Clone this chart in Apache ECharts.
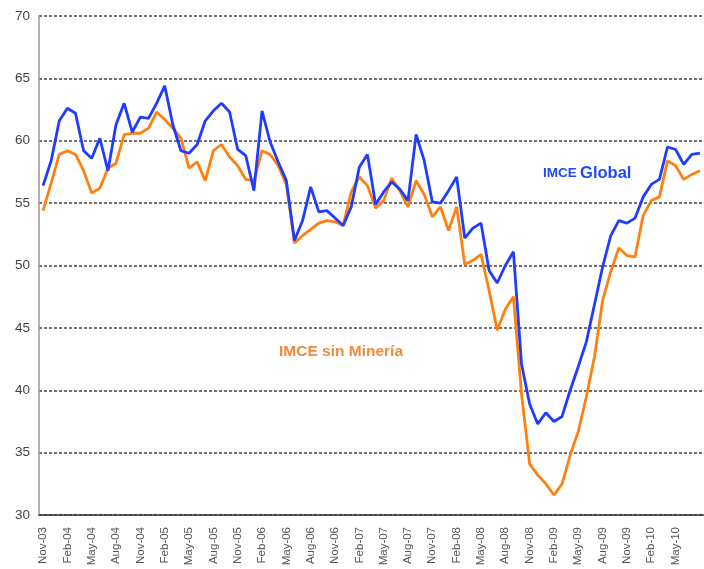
<!DOCTYPE html>
<html lang="es">
<head>
    <meta charset="UTF-8">
    <title>IMCE Global vs IMCE sin Minería</title>
    <script src="https://cdn.jsdelivr.net/npm/echarts@6/dist/echarts.min.js"></script>
    <style>
        html, body { margin: 0; padding: 0; background: #fff; }
        #chart { width: 704px; height: 569px; }
    </style>
</head>
<body>
    <div id="chart"></div>

    <script>
        // months from Nov-03 onwards (last one is cut off at the right edge)
        const monthNames = ['Jan', 'Feb', 'Mar', 'Apr', 'May', 'Jun', 'Jul', 'Aug', 'Sep', 'Oct', 'Nov', 'Dec'];
        const months = [];
        for (let k = 0; k < 82; k++) {
            const m = (10 + k) % 12;
            const y = 3 + Math.floor((10 + k) / 12);
            months.push(monthNames[m] + '-' + String(y).padStart(2, '0'));
        }

        // IMCE Global
        const imceGlobal = [
            56.4, 58.4, 61.6, 62.6, 62.2, 59.2, 58.6, 60.2, 57.6, 61.3,
            63.0, 60.7, 61.9, 61.8, 63.0, 64.4, 61.3, 59.2, 59.0, 59.7,
            61.6, 62.4, 63.0, 62.3, 59.3, 58.8, 56.0, 62.4, 59.9, 58.3,
            56.8, 52.0, 53.6, 56.3, 54.3, 54.4, 53.8, 53.2, 54.7, 57.9,
            58.9, 54.9, 55.9, 56.7, 56.1, 55.2, 60.5, 58.4, 55.1, 55.0,
            56.0, 57.1, 52.2, 53.0, 53.4, 49.6, 48.6, 50.0, 51.1, 42.1,
            38.9, 37.3, 38.2, 37.5, 37.9, 40.0, 41.9, 43.9, 46.9, 49.9,
            52.4, 53.6, 53.4, 53.8, 55.5, 56.5, 56.9, 59.5, 59.3, 58.1,
            58.9, 59.0
        ];

        // IMCE sin Mineria
        const imceSinMineria = [
            54.4, 56.6, 58.9, 59.2, 58.9, 57.6, 55.8, 56.2, 57.8, 58.2,
            60.5, 60.6, 60.6, 61.0, 62.3, 61.7, 61.0, 60.2, 57.8, 58.3,
            56.8, 59.2, 59.7, 58.7, 58.0, 56.9, 56.8, 59.2, 58.9, 58.0,
            56.5, 51.8, 52.4, 52.9, 53.4, 53.6, 53.5, 53.2, 55.9, 57.1,
            56.4, 54.6, 55.2, 57.0, 56.0, 54.7, 56.8, 55.7, 53.9, 54.7,
            52.8, 54.7, 50.1, 50.4, 50.9, 48.0, 44.8, 46.5, 47.5, 39.7,
            34.1, 33.2, 32.5, 31.6, 32.5, 34.8, 36.7, 39.5, 42.7, 47.2,
            49.5, 51.4, 50.8, 50.7, 54.0, 55.2, 55.5, 58.4, 58.0, 56.9,
            57.3, 57.6
        ];

        const yTicks = [30, 35, 40, 45, 50, 55, 60, 65, 70];

        const chart = echarts.init(document.getElementById('chart'));

        const options = {
            animation: false,
            grid: { left: 39, right: -8, top: 16, bottom: 54, containLabel: false },
            xAxis: {
                type: 'category',
                data: months,
                boundaryGap: true,
                axisLine: { lineStyle: { color: '#333', width: 1.5 } },
                axisTick: {
                    interval: (i) => i % 3 === 0,
                    length: 4,
                    lineStyle: { color: '#333', width: 1.2 }
                },
                axisLabel: {
                    interval: (i) => i % 3 === 0 && i < 80,
                    rotate: 90,
                    margin: 12,
                    fontFamily: 'Liberation Sans, Arial, sans-serif',
                    fontSize: 11.5,
                    color: '#555'
                },
                splitLine: { show: false }
            },
            yAxis: {
                type: 'value',
                min: yTicks[0],
                max: yTicks[yTicks.length - 1],
                interval: 5,
                axisLine: { show: true, lineStyle: { color: '#999', width: 1.5 } },
                axisTick: { show: false },
                axisLabel: {
                    margin: 9,
                    fontFamily: 'Liberation Sans, Arial, sans-serif',
                    fontSize: 13.5,
                    color: '#444'
                },
                splitLine: {
                    show: true,
                    lineStyle: { color: '#444', width: 1.5, type: [3, 2] }
                }
            },
            series: [
                {
                    name: 'IMCE Global',
                    type: 'line',
                    data: imceGlobal,
                    symbol: 'none',
                    lineStyle: { color: '#1f3cff', width: 2.8 },
                    z: 3
                },
                {
                    name: 'IMCE sin Minería',
                    type: 'line',
                    data: imceSinMineria,
                    symbol: 'none',
                    lineStyle: { color: '#ff800e', width: 2.8 },
                    z: 2
                }
            ],
            graphic: [
                {
                    type: 'text',
                    left: 543,
                    top: 165,
                    style: {
                        text: '{a|IMCE} {b|Global}',
                        rich: {
                            a: { fontSize: 13.5, fontWeight: 'bold', fill: '#2448f0', fontFamily: 'Liberation Sans, Arial, sans-serif' },
                            b: { fontSize: 16.5, fontWeight: 'bold', fill: '#2448f0', fontFamily: 'Liberation Sans, Arial, sans-serif' }
                        }
                    }
                },
                {
                    type: 'text',
                    left: 279,
                    top: 344,
                    style: {
                        text: 'IMCE sin Minería',
                        fontSize: 15.5,
                        fontWeight: 'bold',
                        fill: '#f28a3a',
                        fontFamily: 'Liberation Sans, Arial, sans-serif'
                    }
                }
            ]
        };

        chart.setOption(options);
    </script>
</body>
</html>
